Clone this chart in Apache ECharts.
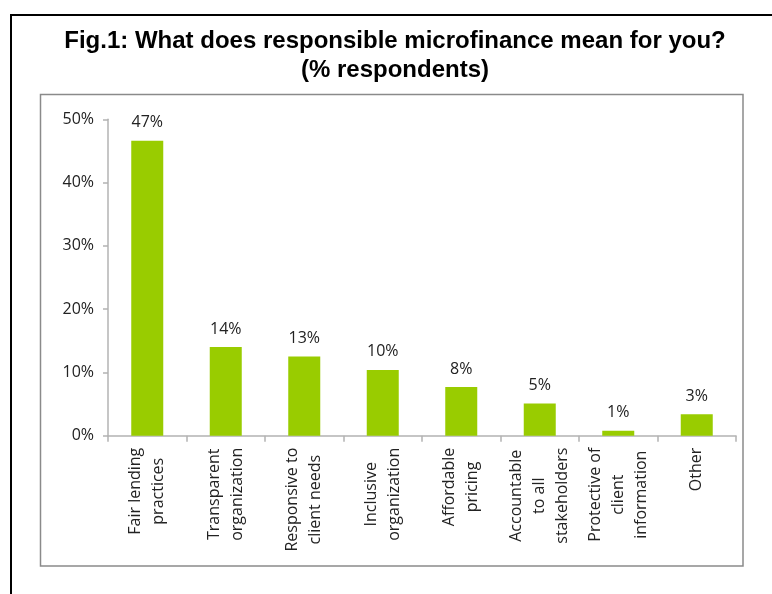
<!DOCTYPE html>
<html>
<head>
<meta charset="utf-8">
<script src="https://cdn.jsdelivr.net/npm/echarts@6/dist/echarts.min.js"></script>
<style>html,body{margin:0;padding:0;background:#fff;}#c{width:772px;height:594px;}</style>
</head>
<body>
<div id="c"></div>
<script>
var titleLines = ['Fig.1: What does responsible microfinance mean for you?', '(% respondents)'];
var categories = [
  'Fair lending\npractices',
  'Transparent\norganization',
  'Responsive to\nclient needs',
  'Inclusive\norganization',
  'Affordable\npricing',
  'Accountable\nto all\nstakeholders',
  'Protective of\nclient\ninformation',
  'Other'
];
var values = [46.6, 14.0, 12.5, 10.4, 7.7, 5.1, 0.8, 3.4];
var yTicks = [0, 10, 20, 30, 40, 50];

var chart = echarts.init(document.getElementById('c'), null, {renderer: 'canvas'});
var option = {
  backgroundColor: '#ffffff',
  animation: false,
  graphic: [
    {type: 'line', shape: {x1: 10, y1: 15, x2: 772, y2: 15}, style: {stroke: '#000', lineWidth: 2}},
    {type: 'line', shape: {x1: 11, y1: 14, x2: 11, y2: 594}, style: {stroke: '#000', lineWidth: 2}},
    {type: 'rect', shape: {x: 40.5, y: 94.5, width: 702.5, height: 471.5}, style: {fill: 'none', stroke: '#8a8a8a', lineWidth: 1.5}, z: -1},
    {type: 'text', x: 395, y: 27, style: {text: titleLines.join('\n'), font: 'bold 24px "Liberation Sans", Arial, sans-serif', lineHeight: 29, textAlign: 'center', fill: '#000'}}
  ],
  grid: {left: 108, right: 36, top: 119.3, bottom: 158.3, containLabel: false},
  xAxis: {
    type: 'category',
    data: categories,
    axisLine: {lineStyle: {color: '#b3b3b3', width: 1.5}},
    axisTick: {show: true, alignWithLabel: false, length: 6, lineStyle: {color: '#b3b3b3', width: 1.5}},
    axisLabel: {
      rotate: 90,
      margin: 12,
      interval: 0,
      color: '#222',
      fontFamily: '"Open Sans", sans-serif',
      fontSize: 16,
      lineHeight: 23,
      formatter: function (v) {
        return v.split('\n').map(function (s) { return '{c|' + s + '}'; }).join('\n');
      },
      rich: {c: {align: 'center', fontFamily: '"Open Sans", sans-serif', fontSize: 16, lineHeight: 23, color: '#222'}}
    }
  },
  yAxis: {
    type: 'value',
    min: 0,
    max: 50,
    interval: 10,
    splitLine: {show: false},
    axisLine: {show: true, lineStyle: {color: '#b3b3b3', width: 1.5}},
    axisTick: {show: true, length: 5, lineStyle: {color: '#b3b3b3', width: 1.5}},
    axisLabel: {
      margin: 14,
      color: '#222',
      fontFamily: '"Open Sans", sans-serif',
      fontSize: 16,
      formatter: function (v) { return yTicks.indexOf(v) >= 0 ? v + '%' : ''; }
    }
  },
  series: [{
    type: 'bar',
    data: values,
    barWidth: 32,
    itemStyle: {color: '#99cc00'},
    label: {
      show: true,
      position: 'top',
      distance: 10,
      color: '#222',
      fontFamily: '"Open Sans", sans-serif',
      fontSize: 16,
      formatter: function (p) { return Math.round(p.value) + '%'; }
    }
  }]
};
chart.setOption(option);
</script>
</body>
</html>
